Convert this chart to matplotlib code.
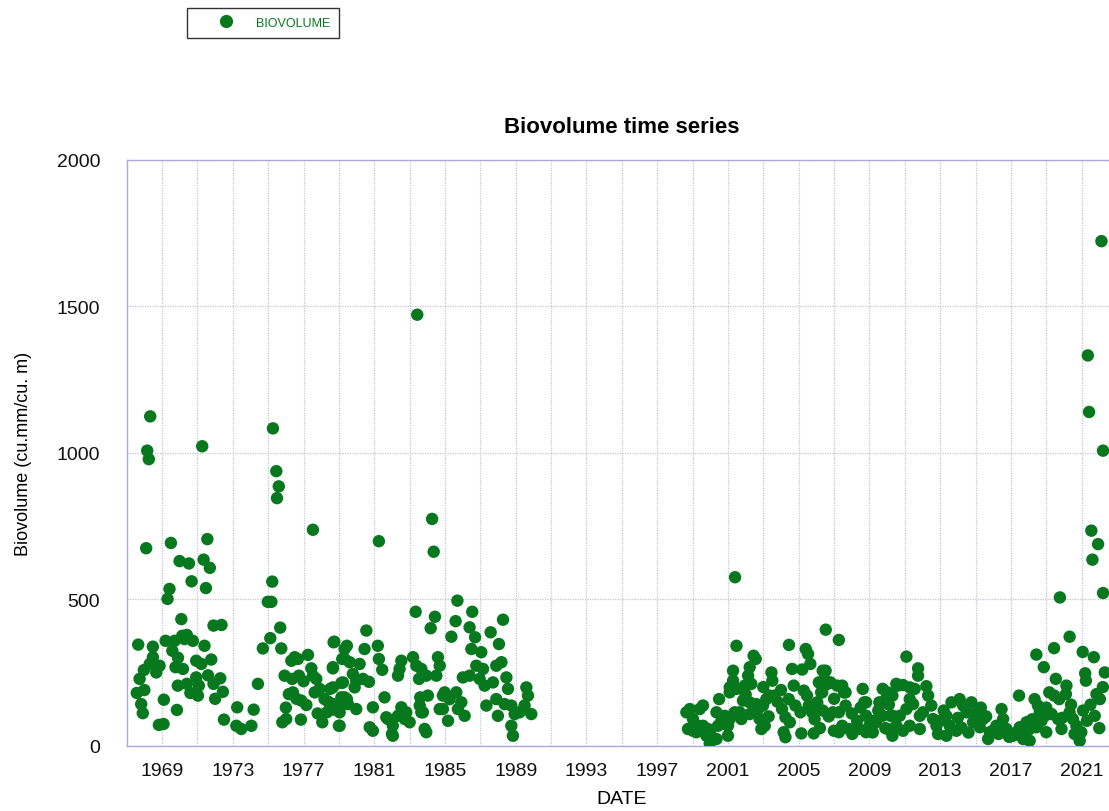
import matplotlib
matplotlib.use("Agg")
import matplotlib.pyplot as plt
from matplotlib.lines import Line2D

plt.rcParams['font.family'] = ['Liberation Sans', 'DejaVu Sans']

# ---------------- data (decimal year, biovolume) ----------------
years_1967_1979 = [
    1968.33, 1968.16, 1968.25, 1971.27, 1968.10, 1969.50, 1969.99, 1970.52, 1971.35, 1971.56,
    1971.70, 1970.67, 1971.48, 1969.42, 1969.31, 1970.09, 1975.27, 1975.46, 1975.60, 1975.50,
    1977.53, 1975.23, 1974.98, 1975.18, 1971.91, 1972.36, 1975.68, 1967.65, 1968.48, 1968.48,
    1968.86, 1967.97, 1967.73, 1968.30, 1968.67, 1969.20, 1969.71, 1969.58, 1970.14, 1970.40,
    1970.74, 1970.27, 1971.40, 1970.93, 1971.22, 1971.78, 1969.76, 1970.18, 1969.89, 1970.40,
    1970.93, 1971.08, 1971.03, 1971.91, 1972.29, 1972.44, 1967.57, 1967.82, 1967.91, 1969.10,
    1969.84, 1968.82, 1969.08, 1972.50, 1973.25, 1973.20, 1973.48, 1974.05, 1974.18, 1974.42,
    1974.70, 1975.12, 1975.74, 1975.80, 1976.02, 1976.85, 1968.00, 1969.90, 1970.60, 1971.60,
    1972.00,
    1976.50, 1976.31, 1976.68, 1977.25, 1977.44, 1975.93, 1976.36, 1976.74, 1977.53, 1977.72,
    1976.17, 1976.40, 1976.87, 1977.16, 1977.63, 1977.91, 1978.19, 1978.51, 1978.66, 1978.74,
    1979.19, 1979.32, 1979.14, 1979.32, 1979.04, 1978.66, 1978.32, 1978.06, 1979.00, 1979.51,
    1976.00, 1976.60, 1977.00, 1977.80, 1978.40,
]
vals_1967_1979 = [
    1124, 1007, 978, 1022, 674, 692, 630, 622, 635, 705,
    607, 561, 538, 535, 501, 432, 1083, 937, 885, 845,
    737, 560, 491, 491, 410, 412, 403, 345, 338, 302,
    273, 258, 228, 279, 250, 358, 358, 324, 375, 378,
    358, 364, 341, 290, 279, 294, 268, 262, 205, 211,
    233, 205, 171, 211, 230, 184, 180, 142, 111, 157,
    122, 71, 74, 89, 131, 68, 57, 68, 123, 211,
    332, 367, 332, 80, 91, 89, 190, 300, 180, 240,
    160,
    302, 290, 296, 310, 264, 239, 228, 239, 239, 228,
    176, 182, 154, 139, 182, 194, 159, 194, 264, 355,
    296, 330, 214, 165, 131, 123, 114, 80, 68, 142,
    130, 160, 220, 110, 150,
]

years_1978_1990 = [
    1983.43, 1981.26, 1984.27, 1984.36, 1985.70, 1983.34, 1984.43, 1984.19, 1985.60, 1985.36,
    1986.54, 1986.39, 1988.28, 1987.58, 1988.05, 1980.55, 1980.45, 1981.20, 1981.26, 1981.45,
    1978.70, 1979.45, 1979.32, 1979.61, 1980.17, 1978.66, 1979.79, 1979.98, 1980.36, 1980.70,
    1979.89, 1979.23, 1978.66, 1979.14, 1979.45, 1979.98, 1978.70, 1979.04, 1979.04,
    1981.58, 1980.92, 1980.74, 1980.92, 1981.68, 1982.05, 1982.05, 1982.34, 1982.53, 1982.81,
    1983.00, 1982.53, 1982.43, 1982.34, 1983.19, 1983.38, 1983.66, 1983.53, 1983.94, 1984.03,
    1983.60, 1983.85, 1983.94, 1983.66, 1981.77, 1982.00, 1982.72, 1983.57, 1983.75, 1984.70,
    1984.88,
    1984.60, 1984.70, 1984.51, 1984.98, 1985.26, 1984.88, 1985.17, 1985.64, 1985.92, 1986.11,
    1985.73, 1986.01, 1986.49, 1987.05, 1986.77, 1987.15, 1986.39, 1986.96, 1987.24, 1987.34,
    1987.90, 1988.19, 1987.71, 1987.90, 1988.47, 1988.56, 1987.99, 1988.37, 1988.75, 1988.94,
    1988.75, 1988.84, 1989.60, 1989.69, 1989.50, 1989.88, 1989.22, 1986.70,
]
vals_1978_1990 = [
    1471, 698, 774, 662, 495, 457, 440, 401, 425, 372,
    457, 404, 430, 387, 347, 393, 330, 341, 296, 259,
    353, 341, 296, 285, 279, 268, 245, 222, 228, 218,
    199, 216, 199, 165, 159, 125, 142, 114, 68,
    165, 131, 63, 51, 97, 68, 34, 102, 131, 114,
    80, 290, 262, 239, 302, 273, 262, 228, 239, 171,
    165, 57, 46, 114, 91, 40, 91, 137, 114, 125,
    171,
    302, 273, 239, 182, 159, 125, 85, 182, 148, 102,
    125, 233, 330, 319, 273, 262, 239, 228, 205, 137,
    273, 285, 216, 159, 233, 194, 102, 142, 137, 108,
    68, 34, 199, 171, 137, 108, 114, 370,
]

years_1998_2010 = [
    2001.40, 2001.48, 2006.53, 2007.27, 2004.45, 2005.40, 2005.53, 2005.66,
    2002.45, 2002.57, 2002.23, 2002.14, 2001.95, 2002.32, 2001.29, 2001.29, 2001.10, 2001.10,
    2001.48, 2001.85, 2001.66, 2000.50,
    2003.46, 2003.51, 2003.36, 2003.64, 2003.17, 2002.98, 2002.61, 2002.23, 2001.76, 2002.79,
    2003.08, 2002.89, 2004.06, 2004.25, 2004.15, 2004.25, 2004.63, 2004.72, 2004.44, 2004.81,
    2005.10, 2005.15, 2005.29, 2005.47, 2005.57, 2005.76, 2006.05, 2006.14, 2006.33, 2006.52,
    2006.80, 2007.18, 2007.56, 2007.65, 2005.85, 2006.99, 2007.27, 2007.46, 2007.84, 2008.03,
    2008.22, 2008.62, 2008.71, 2008.81, 2009.00, 2009.18, 2009.28, 2009.75, 2009.94, 2010.30,
    2010.60, 2010.20, 2010.30,
    1998.65, 1998.84, 1998.74, 1999.02, 1999.31, 1999.40, 1999.59, 1999.21, 1999.78, 1999.97,
    1999.87, 2000.35, 2000.44, 2000.63, 2000.82, 2001.00, 2001.00, 2000.35, 1999.98, 1999.59,
    1999.02, 2001.10, 2001.38, 2002.23,
    2003.00, 2003.80, 2004.00, 2004.50, 2003.30, 2002.00, 2002.70, 2005.20, 2005.90, 2006.20,
    2006.70, 2007.00, 2008.00, 2008.30, 2008.50, 2009.50, 2009.90, 2010.10,
    2008.81, 2010.03, 2009.56, 2009.74, 2007.46, 2007.65, 2008.41, 2008.81, 2009.18, 2009.37,
    2010.03, 2010.31, 2006.93, 2006.36, 2007.27, 2006.36, 2006.45, 2006.27, 2006.64,
]
vals_1998_2010 = [
    575, 341, 396, 361, 344, 330, 313, 279,
    307, 296, 268, 239, 205, 211, 256, 222, 199, 182,
    194, 154, 114, 159,
    250, 222, 171, 171, 159, 137, 142, 108, 91, 91,
    68, 57, 125, 97, 46, 29, 262, 205, 159, 137,
    114, 42, 188, 171, 137, 114, 148, 216, 182, 256,
    216, 205, 182, 137, 42, 51, 114, 68, 57, 40,
    57, 194, 148, 102, 68, 46, 85, 194, 159, 171,
    205, 102, 34,
    114, 125, 57, 91, 68, 125, 137, 46, 34, 8,
    57, 114, 68, 85, 102, 68, 34, 23, 46, 68,
    51, 91, 114, 148,
    200, 150, 190, 80, 100, 175, 125, 260, 90, 60,
    100, 160, 110, 85, 130, 120, 60, 140,
    148, 182, 148, 102, 205, 182, 57, 46, 46, 80,
    57, 102, 114, 120, 46, 256, 228, 182, 211,
]

years_2010_2023 = [
    2011.09, 2011.75, 2011.75, 2010.52, 2010.90, 2011.28, 2011.56, 2012.22, 2012.32, 2011.28,
    2011.47, 2011.09, 2010.71, 2010.52, 2010.90, 2011.28, 2011.85, 2012.03, 2012.50, 2012.60,
    2012.79, 2012.88, 2013.35, 2013.64, 2014.10, 2014.30, 2014.49, 2013.54, 2013.92, 2013.35,
    2011.85,
    2022.21, 2021.55, 2021.93, 2021.61, 2022.21, 2019.77, 2020.32, 2019.44, 2018.44, 2018.86,
    2019.54, 2020.14, 2021.69, 2021.24, 2022.31, 2021.84, 2022.03, 2019.17, 2019.45, 2019.73,
    2020.11, 2017.46, 2018.34, 2018.53, 2018.63, 2021.08, 2021.74, 2020.32, 2020.51, 2020.70,
    2020.98, 2020.89,
    2019.86, 2019.67, 2019.30, 2018.92, 2018.73, 2018.44, 2018.06, 2017.88, 2017.50, 2017.69,
    2017.12, 2016.75, 2016.47, 2016.56, 2016.18, 2015.81, 2015.43, 2015.24, 2014.86, 2014.77,
    2015.71, 2018.06, 2019.00,
    2022.12, 2021.35, 2021.42, 2021.06, 2021.20,
    2013.00, 2013.20, 2014.00, 2014.20, 2014.60, 2015.00, 2015.30, 2015.60, 2016.00, 2016.30,
    2016.90, 2017.30, 2017.80, 2018.20, 2019.00, 2019.90, 2020.40, 2020.60, 2021.30, 2021.50,
    2022.00, 2022.20,
]
vals_2010_2023 = [
    304, 264, 239, 211, 207, 199, 194, 203, 171, 159,
    142, 125, 102, 68, 51, 68, 57, 114, 137, 91,
    68, 40, 102, 148, 159, 137, 114, 68, 51, 34,
    102,
    1007, 734, 688, 635, 521, 506, 372, 333, 311, 268,
    228, 205, 302, 222, 250, 176, 159, 182, 171, 159,
    176, 171, 159, 137, 114, 120, 102, 114, 91, 68,
    46, 17,
    57, 91, 108, 102, 85, 63, 57, 80, 63, 23,
    34, 57, 125, 91, 68, 46, 91, 63, 80, 148,
    23, 17, 46,
    1722, 1332, 1139, 320, 247,
    85, 120, 95, 62, 45, 110, 130, 100, 52, 40,
    30, 45, 40, 90, 130, 95, 140, 40, 85, 140,
    60, 200,
]

major_years = list(range(1969, 2023, 4))
minor_years = list(range(1971, 2023, 4))
y_ticks = [0, 500, 1000, 1500, 2000]

# ---------------- plot ----------------
W, H = 1109, 812
fig = plt.figure(figsize=(W / 100, H / 100), dpi=100)
ax = fig.add_axes([126.7 / W, (H - 746.7) / H, 990.3 / W, 586.0 / H])

green = '#08781e'
x = years_1967_1979 + years_1978_1990 + years_1998_2010 + years_2010_2023
y = vals_1967_1979 + vals_1978_1990 + vals_1998_2010 + vals_2010_2023
ax.scatter(x, y, s=80, color=green, edgecolors='none', zorder=3, clip_on=True)

ax.set_xlim(1967.0, 2023.0)
ax.set_ylim(0, 2000)
ax.set_xticks(major_years)
ax.set_xticklabels([str(v) for v in major_years])
ax.set_xticks(minor_years, minor=True)
ax.set_yticks(y_ticks)
ax.tick_params(axis='both', which='both', length=0, labelsize=14, colors='#111111')
ax.tick_params(axis='x', pad=12)
ax.tick_params(axis='y', pad=19)
ax.grid(True, which='both', axis='x', linestyle=(0, (1, 1)), color='#c4c4d8', linewidth=0.9, zorder=0)
ax.grid(True, which='major', axis='y', linestyle=(0, (1, 1)), color='#c4c4d8', linewidth=0.9, zorder=0)
for s in ax.spines.values():
    s.set_color('#aaaadd')
    s.set_linewidth(1.0)

ax.set_title('Biovolume time series', fontsize=16, fontweight='bold', pad=20)
ax.set_xlabel('DATE', fontsize=14, labelpad=8)
ax.set_ylabel('Biovolume (cu.mm/cu. m)', fontsize=13, labelpad=18)

handle = Line2D([], [], linestyle='none', marker='o', markersize=8.5,
                markerfacecolor=green, markeredgecolor=green)
leg = fig.legend([handle], ['BIOVOLUME'], loc='upper left',
                 bbox_to_anchor=(187 / W, 1 - 9 / H), borderaxespad=0,
                 fontsize=9, frameon=True, fancybox=False, edgecolor='black',
                 handlelength=4.8, handletextpad=0.0, borderpad=0.7,
                 labelcolor=green)
leg.get_frame().set_linewidth(1.0)

fig.savefig('out.png', dpi=100)
